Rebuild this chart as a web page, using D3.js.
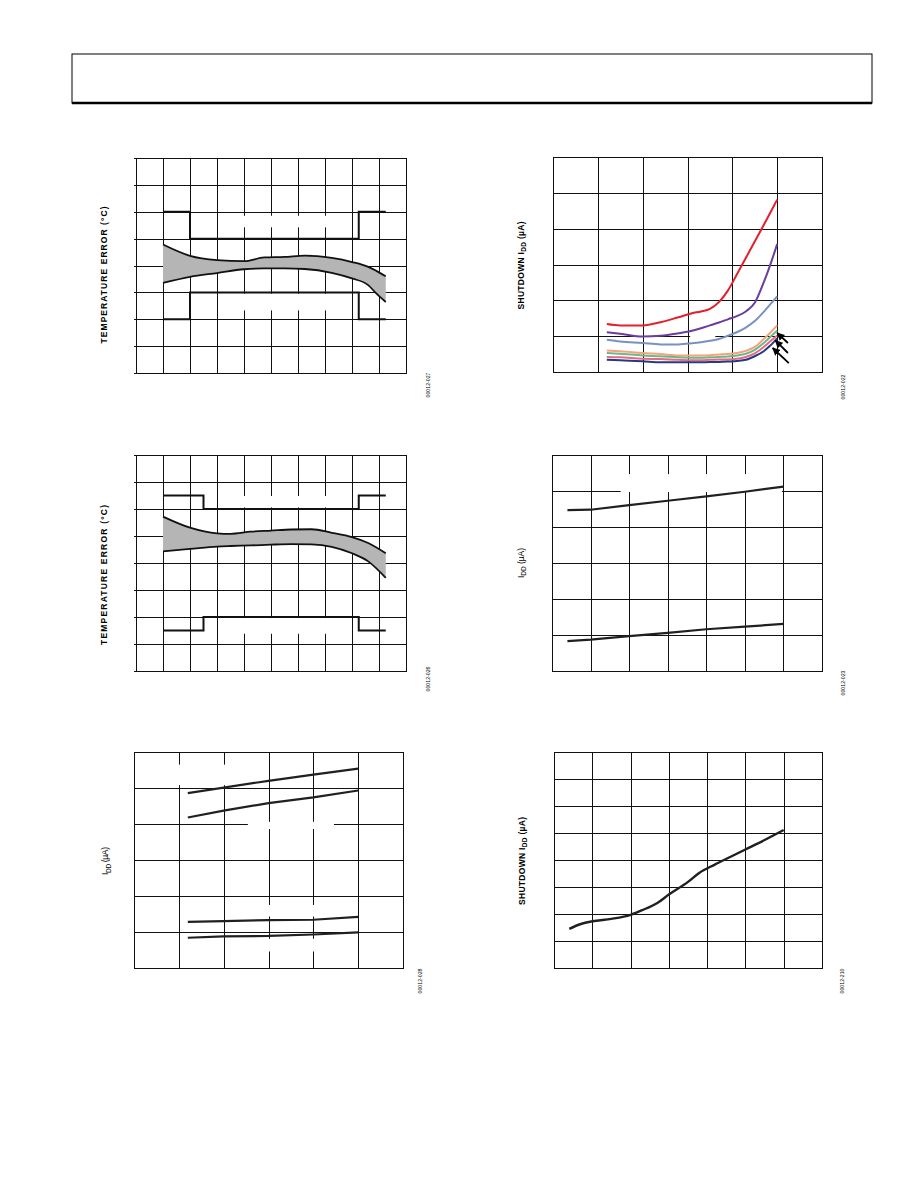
<!DOCTYPE html>
<html>
<head>
<meta charset="utf-8">
<script src="https://cdn.jsdelivr.net/npm/d3@7"></script>
<style>
  body { margin: 0; background: #fff; }
  svg { display: block; }
  .grid line { stroke: #111; stroke-width: 1; shape-rendering: crispEdges; }
  .grid path { display: none; }
  text { font-family: "Liberation Sans", Arial, sans-serif; fill: #000; }
</style>
</head>
<body>
<svg id="page" width="918" height="1188"></svg>
<script>
'use strict'

// ---- data ----

// temperature error, upper-left chart
const errTemp1 = [-40, -20, 0, 20, 35, 50, 65, 85, 100, 112, 118, 125]
const errHi1 = [0.78, 0.36, 0.20, 0.16, 0.30, 0.32, 0.37, 0.28, 0.13, -0.05, -0.20, -0.40]
const errLo1 = [-0.65, -0.42, -0.28, -0.14, -0.11, -0.11, -0.13, -0.27, -0.48, -0.73, -1.04, -1.36]
const limTemp1 = [-40, -20, 105, 125]
const limHi1 = [2, 1, 2, 2]
const limLo1 = [-2, -1, -2, -2]

// temperature error, middle-left chart
const errTemp2 = [-40, -20, 0, 10, 25, 40, 55, 70, 85, 100, 112, 125]
const errHi2 = [1.72, 1.31, 1.10, 1.08, 1.16, 1.20, 1.24, 1.25, 1.12, 0.96, 0.74, 0.36]
const errLo2 = [0.43, 0.52, 0.61, 0.63, 0.65, 0.68, 0.70, 0.69, 0.60, 0.36, 0.06, -0.55]
const limTemp2 = [-40, -10, 105, 125]
const limHi2 = [2.5, 2, 2.5, 2.5]
const limLo2 = [-2.5, -2, -2.5, -2.5]

// shutdown IDD vs temperature, seven parts
const sdTemp = [-40, -25, 0, 20, 40, 55, 65, 75, 85, 95, 105, 115, 125, 135, 142, 150]
const sdRed = [1.34, 1.30, 1.30, 1.39, 1.53, 1.64, 1.69, 1.76, 1.95, 2.27, 2.72, 3.18, 3.64, 4.10, 4.43, 4.81]
const sdPurple = [1.11, 1.07, 0.99, 1.01, 1.08, 1.15, 1.22, 1.30, 1.38, 1.47, 1.56, 1.69, 1.93, 2.50, 2.97, 3.57]
const sdSteel = [0.90, 0.85, 0.81, 0.77, 0.77, 0.80, 0.83, 0.87, 0.92, 1.01, 1.11, 1.24, 1.42, 1.68, 1.88, 2.11]
const sdOrange = [0.60, 0.58, 0.53, 0.50, 0.46, 0.46, 0.46, 0.47, 0.49, 0.50, 0.53, 0.59, 0.70, 0.92, 1.09, 1.30]
const sdGreen = [0.53, 0.51, 0.46, 0.44, 0.41, 0.40, 0.40, 0.41, 0.42, 0.43, 0.46, 0.51, 0.62, 0.81, 0.97, 1.16]
const sdPink = [0.42, 0.41, 0.37, 0.36, 0.34, 0.33, 0.33, 0.34, 0.35, 0.35, 0.37, 0.42, 0.52, 0.70, 0.85, 1.02]
const sdNavy = [0.34, 0.33, 0.30, 0.27, 0.27, 0.27, 0.27, 0.28, 0.28, 0.29, 0.31, 0.34, 0.44, 0.58, 0.73, 0.94]
const sdColors = ['#e3202c', '#6a3d9e', '#7890c2', '#f5a37a', '#6cb88a', '#e66a86', '#243b7e']
// arrows pointing at the lower curves: [tail, head] in data units
const sdArrows = [
  [[162, 0.81], [150, 1.09]],
  [[162, 0.53], [148, 0.88]],
  [[163, 0.25], [145, 0.67]]
]

// IDD vs supply, middle-right chart
const vdd4 = [2.7, 3.0, 3.5, 4.0, 4.5, 5.0, 5.5]
const iddHi4 = [4.47, 4.48, 4.61, 4.73, 4.85, 4.98, 5.12]
const iddLo4 = [0.83, 0.87, 0.97, 1.06, 1.16, 1.23, 1.31]

// IDD vs temperature, lower-left chart
const temp5 = [-40, 0, 50, 100, 150]
const idd5a = [4.86, 5.01, 5.20, 5.37, 5.54]
const idd5b = [4.18, 4.37, 4.58, 4.74, 4.93]
const idd5c = [1.28, 1.30, 1.33, 1.34, 1.42]
const idd5d = [0.84, 0.88, 0.89, 0.93, 0.99]

// shutdown IDD vs supply, lower-right chart
const vdd6 = [2.7, 2.85, 3.0, 3.25, 3.5, 3.65, 3.85, 4.0, 4.25, 4.4, 4.6, 4.8, 5.0, 5.25, 5.5]
const sdIdd6 = [1.45, 1.63, 1.73, 1.82, 1.97, 2.14, 2.41, 2.72, 3.19, 3.53, 3.83, 4.11, 4.39, 4.74, 5.11]

// white knock-outs where the original in-plot labels were removed [x0, x1, y0, y1]
const knock1 = [[14, 86, 1.42, 1.85], [14, 86, -1.67, -1.05]]
const knock2 = [[18, 83, 2.06, 2.48], [18, 83, -2.62, -2.04]]
const knock3 = [[53, 81, 0.92, 1.1]]
const knock4 = [[3.39, 5.48, 4.97, 5.47]]
const knock5 = [[-60, 40, 5.08, 5.65], [27, 123, 3.86, 4.06], [30, 124, 1.43, 1.75], [30, 124, 0.46, 0.81]]

const svg = d3.select('#page')

svg.append('defs').append('marker')
  .attr('id', 'arrow')
  .attr('viewBox', '0 0 10 10')
  .attr('refX', 9).attr('refY', 5)
  .attr('markerWidth', 8).attr('markerHeight', 8)
  .attr('markerUnits', 'userSpaceOnUse')
  .attr('orient', 'auto')
  .append('path').attr('d', 'M0,0 L10,5 L0,10 z').attr('fill', '#000')

// page header box
svg.append('rect').attr('x', 72).attr('y', 54).attr('width', 800).attr('height', 49)
  .attr('fill', 'none').attr('stroke', '#000').attr('stroke-width', 1)
svg.append('line').attr('x1', 72).attr('x2', 872).attr('y1', 103).attr('y2', 103)
  .attr('stroke', '#000').attr('stroke-width', 2.6)

function panel(box, xDom, xStep, yDom, yStep, knocks, tickOut) {
  const g = svg.append('g').attr('transform', `translate(${box.x},${box.y})`)
  const x = d3.scaleLinear().domain(xDom).range([0, box.w])
  const y = d3.scaleLinear().domain(yDom).range([box.h, 0])
  const xt = d3.range(xDom[0], xDom[1] + xStep / 2, xStep)
  const yt = d3.range(yDom[0], yDom[1] + yStep / 2, yStep)

  g.append('g').attr('class', 'grid')
    .call(d3.axisBottom(x).tickValues(xt).tickSize(box.h).tickFormat(''))
  g.append('g').attr('class', 'grid')
    .attr('transform', `translate(${-tickOut},0)`)
    .call(d3.axisLeft(y).tickValues(yt).tickSize(-(box.w + tickOut)).tickFormat(''))

  g.selectAll('rect.knock').data(knocks).join('rect')
    .attr('class', 'knock')
    .attr('x', d => x(d[0])).attr('width', d => x(d[1]) - x(d[0]))
    .attr('y', d => y(d[3])).attr('height', d => y(d[2]) - y(d[3]))
    .attr('fill', '#fff')

  g.append('rect').attr('width', box.w).attr('height', box.h)
    .attr('fill', 'none').attr('stroke', '#111').attr('stroke-width', 1)
    .attr('shape-rendering', 'crispEdges')
  return { g, x, y }
}

function yTitle(cx, cy, main, sub, tail, span, bold) {
  const t = svg.append('text')
    .attr('transform', `translate(${cx},${cy}) rotate(-90)`)
    .attr('text-anchor', 'middle')
    .attr('dominant-baseline', 'central')
    .attr('font-size', 8.5)
    .attr('font-weight', bold ? 'bold' : 'normal')
    .attr('textLength', span).attr('lengthAdjust', 'spacing')
  t.append('tspan').text(main)
  if (sub) {
    t.append('tspan').attr('font-size', 6.5).attr('dy', 2.5).text(sub)
    t.append('tspan').attr('dy', -2.5).text(tail)
  }
}

function figId(cx, cy, label) {
  svg.append('text')
    .attr('transform', `translate(${cx},${cy}) rotate(-90)`)
    .attr('text-anchor', 'middle')
    .attr('dominant-baseline', 'central')
    .attr('font-size', 5.2)
    .text(label)
}

function errorPanel(box, temps, hi, lo, limT, limHi, limLo, knocks) {
  const p = panel(box, [-60, 140], 20, [-4, 4], 1, knocks, 2)
  const rows = temps.map((t, i) => ({ t, hi: hi[i], lo: lo[i] }))
  p.g.append('path').datum(rows)
    .attr('d', d3.area().curve(d3.curveMonotoneX)
      .x(d => p.x(d.t)).y0(d => p.y(d.lo)).y1(d => p.y(d.hi)))
    .attr('fill', '#b5b5b5')
  ;['hi', 'lo'].forEach(k => {
    p.g.append('path').datum(rows)
      .attr('d', d3.line().curve(d3.curveMonotoneX).x(d => p.x(d.t)).y(d => p.y(d[k])))
      .attr('fill', 'none').attr('stroke', '#111').attr('stroke-width', 1.8)
  })
  ;[limHi, limLo].forEach(vals => {
    p.g.append('path').datum(limT.map((t, i) => [t, vals[i]]))
      .attr('d', d3.line().curve(d3.curveStepAfter).x(d => p.x(d[0])).y(d => p.y(d[1])))
      .attr('fill', 'none').attr('stroke', '#111').attr('stroke-width', 2)
  })
  return p
}

function drawLine(p, xs, ys, color, width, curve) {
  p.g.append('path').datum(xs.map((v, i) => [v, ys[i]]))
    .attr('d', d3.line().curve(curve || d3.curveLinear).x(d => p.x(d[0])).y(d => p.y(d[1])))
    .attr('fill', 'none').attr('stroke', color).attr('stroke-width', width)
    .attr('stroke-linejoin', 'round')
}

// upper-left: temperature error
errorPanel({ x: 136, y: 158, w: 270, h: 215 }, errTemp1, errHi1, errLo1, limTemp1, limHi1, limLo1, knock1)
yTitle(103.5, 275, 'TEMPERATURE ERROR (°C)', null, null, 137, true)
figId(428, 385, '00012-027')

// middle-left: temperature error
errorPanel({ x: 136, y: 455, w: 270, h: 216 }, errTemp2, errHi2, errLo2, limTemp2, limHi2, limLo2, knock2)
yTitle(103.5, 575, 'TEMPERATURE ERROR (°C)', null, null, 140, true)
figId(428, 679, '00012-026')

// upper-right: shutdown IDD vs temperature
const p3 = panel({ x: 553, y: 157, w: 269, h: 215 }, [-100, 200], 50, [0, 6], 1, knock3, 0)
const sdSeries = [sdRed, sdPurple, sdSteel, sdOrange, sdGreen, sdPink, sdNavy]
sdSeries.forEach((s, i) => drawLine(p3, sdTemp, s, sdColors[i], 2, d3.curveMonotoneX))
sdArrows.forEach(a => {
  p3.g.append('line')
    .attr('x1', p3.x(a[0][0])).attr('y1', p3.y(a[0][1]))
    .attr('x2', p3.x(a[1][0])).attr('y2', p3.y(a[1][1]))
    .attr('stroke', '#000').attr('stroke-width', 1.8)
    .attr('marker-end', 'url(#arrow)')
})
yTitle(520.5, 265.5, 'SHUTDOWN I', 'DD', ' (µA)', 88, true)
figId(843, 387, '00012-022')

// middle-right: IDD vs supply
const p4 = panel({ x: 552, y: 455, w: 270, h: 216 }, [2.5, 6.0], 0.5, [0, 6], 1, knock4, 0)
drawLine(p4, vdd4, iddHi4, '#231f20', 2.2)
drawLine(p4, vdd4, iddLo4, '#231f20', 2.2)
yTitle(520.5, 563, 'I', 'DD', ' (µA)', 30, false)
figId(843, 683, '00012-023')

// lower-left: IDD vs temperature
const p5 = panel({ x: 134, y: 752, w: 269, h: 216 }, [-100, 200], 50, [0, 6], 1, knock5, 0)
;[idd5a, idd5b, idd5c, idd5d].forEach(s => drawLine(p5, temp5, s, '#231f20', 2.2))
yTitle(105, 861, 'I', 'DD', ' (µA)', 28, false)
figId(420, 981, '00012-028')

// lower-right: shutdown IDD vs supply
const p6 = panel({ x: 554, y: 752, w: 268, h: 216 }, [2.5, 6.0], 0.5, [0, 8], 1, [], 0)
drawLine(p6, vdd6, sdIdd6, '#231f20', 2.4, d3.curveMonotoneX)
yTitle(521.5, 861, 'SHUTDOWN I', 'DD', ' (µA)', 88, true)
figId(842, 981, '00012-210')
</script>
</body>
</html>
